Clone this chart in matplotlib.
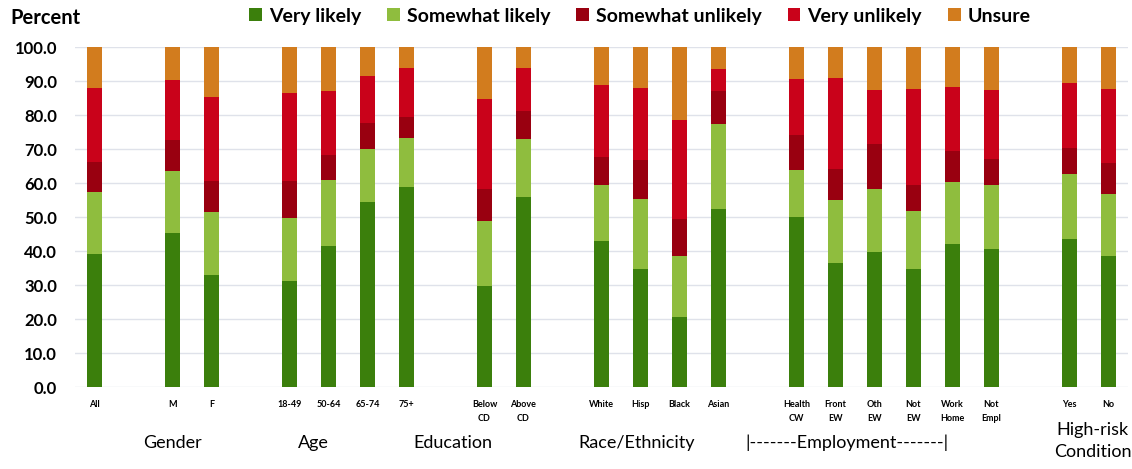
import numpy as np
import matplotlib.pyplot as plt
from matplotlib import transforms

plt.rcParams['font.family'] = ['Lato', 'DejaVu Sans']

# bar slots (gaps between groups are empty slots)
slots = [0, 2, 3, 5, 6, 7, 8, 10, 11, 13, 14, 15, 16, 18, 19, 20, 21, 22, 23, 25, 26]
labels = ['All', 'M', 'F', '18-49', '50-64', '65-74', '75+', 'Below\nCD', 'Above\nCD',
          'White', 'Hisp', 'Black', 'Asian', 'Health\nCW', 'Front\nEW', 'Oth\nEW',
          'Not\nEW', 'Work\nHome', 'Not\nEmpl', 'Yes', 'No']

very_likely = [39.1, 45.3, 33.0, 31.2, 41.4, 54.5, 58.8, 29.7, 56.0, 43.0, 34.7, 20.5, 52.3,
               50.0, 36.6, 39.8, 34.7, 42.0, 40.6, 43.7, 38.6]
somewhat_likely = [18.2, 18.3, 18.4, 18.7, 19.5, 15.5, 14.4, 19.3, 17.0, 16.5, 20.6, 18.1, 25.1,
                   13.9, 18.5, 18.5, 17.1, 18.3, 18.9, 18.9, 18.1]
somewhat_unlikely = [8.9, 9.1, 9.3, 10.8, 7.4, 7.7, 6.4, 9.4, 8.3, 8.2, 11.5, 10.8, 9.6,
                     10.2, 9.2, 13.2, 7.6, 9.3, 7.5, 7.7, 9.2]
very_unlikely = [21.8, 17.7, 24.7, 26.0, 18.7, 13.9, 14.4, 26.3, 12.7, 21.2, 21.3, 29.2, 6.5,
                 16.6, 26.8, 15.9, 28.3, 18.8, 20.4, 19.1, 21.8]
unsure = [12.0, 9.6, 14.6, 13.3, 13.0, 8.4, 6.0, 15.3, 6.0, 11.1, 11.9, 21.4, 6.5,
          9.3, 8.9, 12.6, 12.3, 11.6, 12.6, 10.6, 12.3]

series = [('Very likely', very_likely, '#3b7f0c'),
          ('Somewhat likely', somewhat_likely, '#8fbd3e'),
          ('Somewhat unlikely', somewhat_unlikely, '#990010'),
          ('Very unlikely', very_unlikely, '#c9021a'),
          ('Unsure', unsure, '#d27c1e')]

groups = [('Gender', 2.0), ('Age', 5.6), ('Education', 9.2), ('Race/Ethnicity', 13.9),
          ('|-------Employment-------|', 19.3), ('High-risk\nCondition', 25.6)]

fig = plt.figure(figsize=(11.32, 4.69), dpi=100)
ax = fig.add_axes([0.0663, 0.1748, 0.930, 0.7243])

bottom = np.zeros(len(slots))
for name, vals, col in series:
    ax.bar(slots, vals, width=0.4, bottom=bottom, color=col, label=name, zorder=3)
    bottom += np.array(vals)

ax.set_xlim(-0.5, 26.5)
ax.set_ylim(0, 100)
ax.set_yticks(np.arange(0, 101, 10))
ax.set_yticklabels([f'{v:.1f}' for v in np.arange(0, 101, 10)], fontsize=12, fontweight='bold')
ax.set_xticks(slots)
ax.set_xticklabels(labels, fontsize=6.5, fontweight='bold', linespacing=1.8, va='top')
ax.tick_params(axis='both', length=0)
ax.tick_params(axis='y', pad=13)
ax.tick_params(axis='x', pad=9)
ax.grid(axis='y', color='#dfe2ea', linewidth=1, zorder=0)
for s in ax.spines.values():
    s.set_visible(False)

fig.text(0.009, 0.962, 'Percent', fontsize=14.5, fontweight='bold', va='center', ha='left')

ax.legend(loc='center left', bbox_to_anchor=(0.158, 1.092), ncol=5, frameon=False,
          handlelength=0.65, handleheight=0.65, handletextpad=0.35,
          columnspacing=1.35, borderaxespad=0, prop={'weight': 'bold', 'size': 14})

trans = transforms.blended_transform_factory(ax.transData, fig.transFigure)
for name, x in groups:
    if '\n' in name:
        fig.text(x, 0.06, name, transform=trans, fontsize=13, ha='center', va='center',
                 linespacing=1.45)
    else:
        fig.text(x, 0.055, name, transform=trans, fontsize=13, ha='center', va='center')

fig.savefig('out.png', dpi=100)
